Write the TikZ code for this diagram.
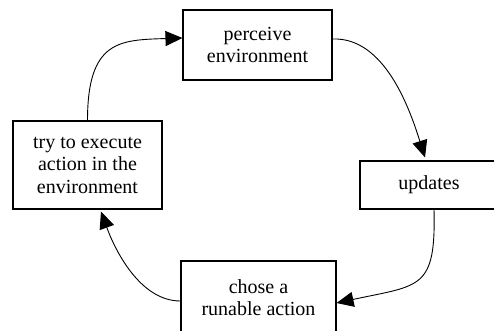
\documentclass[tikz,border=0pt]{standalone}
\usepackage{fontspec}
\setmainfont{Liberation Serif}
\usetikzlibrary{arrows.meta}
\begin{document}
\begin{tikzpicture}[x=1pt,y=-1pt,
  box/.style={draw=black, line width=1.1pt, fill=white, align=center, inner sep=0pt,
    font=\fontsize{20}{22.5}\selectfont},
  flow/.style={line width=0.9pt, -{Triangle[length=17pt,width=15pt]}}]
\useasboundingbox (0,0) rectangle (494,331);
\clip (0,0) rectangle (494,331);
\fill[white] (0,0) rectangle (494,331);
\node[box, minimum width=149pt, minimum height=70pt] (perceive) at (257.5,45) {perceive\\environment};
\node[box, minimum width=149pt, minimum height=88pt] (try) at (87.5,165) {try to execute\\action in the\\environment};
\node[box, minimum width=138pt, minimum height=48pt] (updates) at (429,185) {updates};
\node[box, minimum width=155pt, minimum height=73pt] (chose) at (258.5,297.5) {chose a\\runable action};
\draw[flow] (try.north) .. controls (87.5,40) and (120,40) .. ([yshift=7pt]perceive.west);
\draw[flow] ([yshift=6pt]perceive.east) .. controls (385,37) and (410,110) .. ([xshift=-4pt,yshift=3pt]updates.north);
\draw[flow] ([xshift=5pt]updates.south) .. controls (436,290) and (420,285) .. ([yshift=-5.5pt]chose.east);
\draw[flow] ([yshift=-3.5pt]chose.west) .. controls (140,301) and (115,250) .. ([xshift=13.5pt,yshift=-2pt]try.south);
\end{tikzpicture}
\end{document}
